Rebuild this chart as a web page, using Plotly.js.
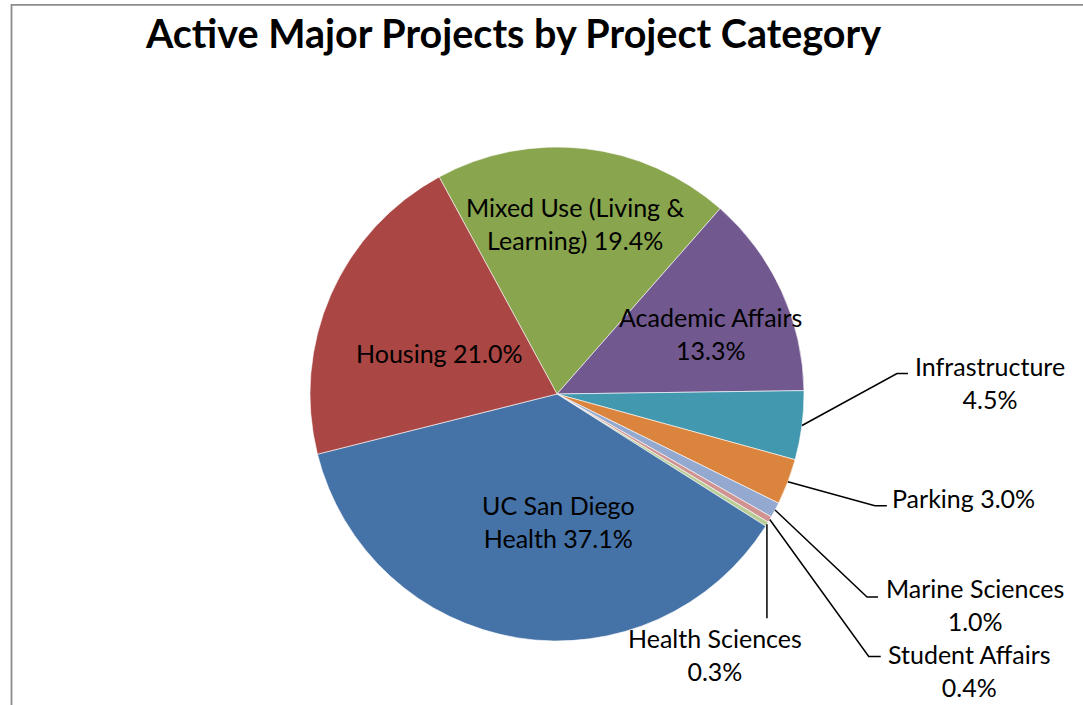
<!DOCTYPE html>
<html>
<head>
<meta charset="utf-8">
<script src="https://cdn.plot.ly/plotly-3.0.1.min.js"></script>
<style>
html,body{margin:0;padding:0;background:#ffffff;}
#chart{width:1083px;height:705px;}
</style>
</head>
<body>
<div id="chart"></div>
<script>
// ---- data ----
const categories = ["Mixed Use (Living & Learning)", "Academic Affairs", "Infrastructure", "Parking",
  "Marine Sciences", "Student Affairs", "Health Sciences", "UC San Diego Health", "Housing"];
const shares = [19.4, 13.3, 4.5, 3.0, 1.0, 0.4, 0.3, 37.1, 21.0];
const labelHeads = ["Mixed Use (Living &<br>Learning)", "Academic Affairs", "Infrastructure", "Parking",
  "Marine Sciences", "Student Affairs", "Health Sciences", "UC San Diego<br>Health", "Housing"];
const labelSeps = [" ", "<br>", "<br>", " ", "<br>", "<br>", "<br>", " ", " "];
const sliceColors = ["#89A54E", "#71588F", "#4198AF", "#DB843D", "#93A9CF", "#D19392", "#B9CD96", "#4572A7", "#AA4643"];
const chartTitle = "Active Major Projects by Project Category";

// ---- layout / style ----
const W = 1083, H = 705;
const cx = 557, cy = 394, R = 247;
const rotation = -28.5;
const fontFamily = "Lato, Carlito, 'Open Sans', sans-serif";
const labelSize = 25;
// label placement: offsets (px) from the rim point at each slice's mid-angle
const labelStyle = [
  {type: "in", text: [-10, 75]},
  {type: "in", text: [-71, 43]},
  {type: "out", elbow: [95, -52], stub: 11, text: [188, -43]},
  {type: "out", elbow: [87, 24], stub: 12, text: [176, 16]},
  {type: "out", elbow: [92, 87], stub: 11, text: [200, 94]},
  {type: "out", elbow: [99, 137], stub: 12, text: [200, 151]},
  {type: "out", elbow: [0, 94], stub: 0, text: [-52, 130]},
  {type: "in", text: [41, -116]},
  {type: "in", text: [108, 58]}
];

const px = x => x / W;
const py = y => 1 - y / H;

const total = shares.reduce((a, b) => a + b, 0);
let cum = 0;
const annotations = [];
const shapes = [];
shares.forEach((v, i) => {
  const mid = (rotation + 360 * (cum + v / 2) / total) * Math.PI / 180;
  cum += v;
  const ax = cx + R * Math.sin(mid);
  const ay = cy - R * Math.cos(mid);
  const st = labelStyle[i];
  const txt = labelHeads[i] + labelSeps[i] + v.toFixed(1) + "%";
  annotations.push({
    xref: "paper", yref: "paper",
    x: px(ax + st.text[0]), y: py(ay + st.text[1]),
    xanchor: "center", yanchor: "middle",
    text: txt, showarrow: false, align: "center",
    font: {family: fontFamily, size: labelSize, color: "#000000"}
  });
  if (st.type === "out") {
    const ex = ax + st.elbow[0], ey = ay + st.elbow[1];
    let path = `M ${px(ax)},${py(ay)} L ${px(ex)},${py(ey)}`;
    if (st.stub) path += ` L ${px(ex + st.stub)},${py(ey)}`;
    shapes.push({type: "path", xref: "paper", yref: "paper", path: path,
      line: {color: "#000000", width: 1.5}});
  }
});

// chart frame
shapes.push({type: "rect", xref: "paper", yref: "paper",
  x0: px(11.5), x1: px(W + 20), y0: py(H + 20), y1: py(4.8),
  line: {color: "#8c8c8c", width: 1.8}, fillcolor: "rgba(0,0,0,0)", layer: "below"});

const trace = {
  type: "pie",
  labels: categories,
  values: shares,
  sort: false,
  direction: "clockwise",
  rotation: rotation,
  textinfo: "none",
  hoverinfo: "label+percent",
  marker: {colors: sliceColors, line: {color: "#ffffff", width: 0.6}},
  domain: {x: [px(cx - R), px(cx + R)], y: [py(cy + R), py(cy - R)]},
  showlegend: false
};

const layout = {
  width: W, height: H,
  margin: {l: 0, r: 0, t: 0, b: 0},
  paper_bgcolor: "#ffffff",
  plot_bgcolor: "#ffffff",
  showlegend: false,
  title: {
    text: chartTitle,
    font: {family: fontFamily, size: 39.5, color: "#000000", weight: 700},
    x: px(513.5), xref: "container", xanchor: "center",
    y: 1 - 34.5 / H, yref: "container", yanchor: "middle"
  },
  annotations: annotations,
  shapes: shapes
};

Plotly.newPlot("chart", [trace], layout, {displayModeBar: false});
</script>
</body>
</html>
